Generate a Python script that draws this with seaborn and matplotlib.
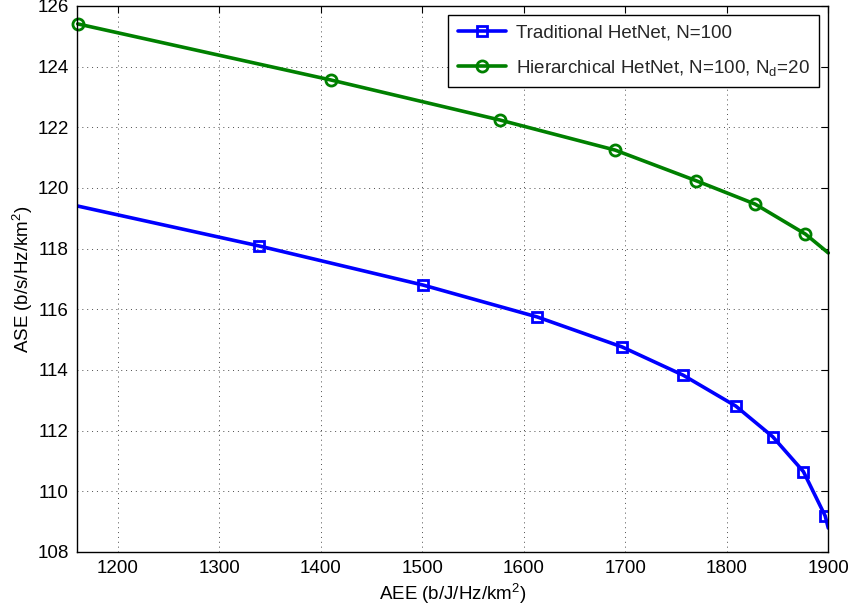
import matplotlib
matplotlib.use("Agg")
import matplotlib.pyplot as plt
import seaborn as sns
import pandas as pd

# Data (first/last points are line ends clipped at the axes, no markers)
trad_x = [1160, 1339.3, 1500.9, 1613.2, 1696.9, 1757.0, 1808.9, 1845.3, 1875.5, 1896.9, 1900]
trad_y = [119.41, 118.09, 116.80, 115.75, 114.76, 113.83, 112.81, 111.80, 110.65, 109.19, 108.79]
hier_x = [1160.7, 1410.2, 1576.7, 1690.0, 1769.8, 1827.9, 1877.5, 1900]
hier_y = [125.41, 123.56, 122.24, 121.25, 120.24, 119.47, 118.48, 117.86]
labels = ["Traditional HetNet, N=100",
          "Hierarchical HetNet, N=100, N$_\\mathregular{d}$=20"]
x_ticks = [1200, 1300, 1400, 1500, 1600, 1700, 1800, 1900]
y_ticks = [108, 110, 112, 114, 116, 118, 120, 122, 124, 126]

sns.set_theme(style="white")
plt.rcParams["font.family"] = ["Liberation Sans", "DejaVu Sans"]
plt.rcParams["mathtext.default"] = "regular"
plt.rcParams["xtick.direction"] = "in"
plt.rcParams["ytick.direction"] = "in"

df_t = pd.DataFrame({"x": trad_x, "y": trad_y})
df_h = pd.DataFrame({"x": hier_x, "y": hier_y})

fig = plt.figure(figsize=(8.52, 6.12), dpi=100)
ax = fig.add_axes([77 / 852, 1 - 552 / 612, (828.3 - 77) / 852, (552 - 6) / 612])

sns.lineplot(data=df_t, x="x", y="y", ax=ax, sort=False, color=(0, 0, 1), lw=2.6,
             marker="s", markersize=7.5, markerfacecolor="none", markeredgecolor=(0, 0, 1),
             markeredgewidth=2.0, markevery=list(range(1, len(trad_x) - 1)),
             label=labels[0], clip_on=True)
sns.lineplot(data=df_h, x="x", y="y", ax=ax, sort=False, color=(0, 0.5, 0), lw=2.6,
             marker="o", markersize=8, markerfacecolor="none", markeredgecolor=(0, 0.5, 0),
             markeredgewidth=2.0, markevery=list(range(0, len(hier_x) - 1)),
             label=labels[1], clip_on=False)

ax.set_xlim(1160, 1900)
ax.set_ylim(108, 126)
ax.set_xticks(x_ticks)
ax.set_yticks(y_ticks)
ax.tick_params(axis="both", labelsize=13.5, colors="black", length=5, width=0.8,
               top=True, right=True, direction="in", pad=6)
ax.grid(True, linestyle=(0, (1, 4)), color="black", lw=0.7, alpha=0.7)
for s in ax.spines.values():
    s.set_color("black")
    s.set_linewidth(1.0)

ax.set_xlabel("AEE (b/J/Hz/km$^2$)", fontsize=13.5, color="black", labelpad=3)
ax.set_ylabel("ASE (b/s/Hz/km$^2$)", fontsize=13.5, color="black", labelpad=2)

leg = ax.legend(loc="upper right", fontsize=13.5, frameon=True, fancybox=False,
                edgecolor="black", framealpha=1, borderpad=0.5, handlelength=2.6,
                labelspacing=0.85, borderaxespad=0.5, handletextpad=0.5)
leg.get_frame().set_linewidth(1.0)

fig.savefig("out.png", dpi=100, facecolor="white")
